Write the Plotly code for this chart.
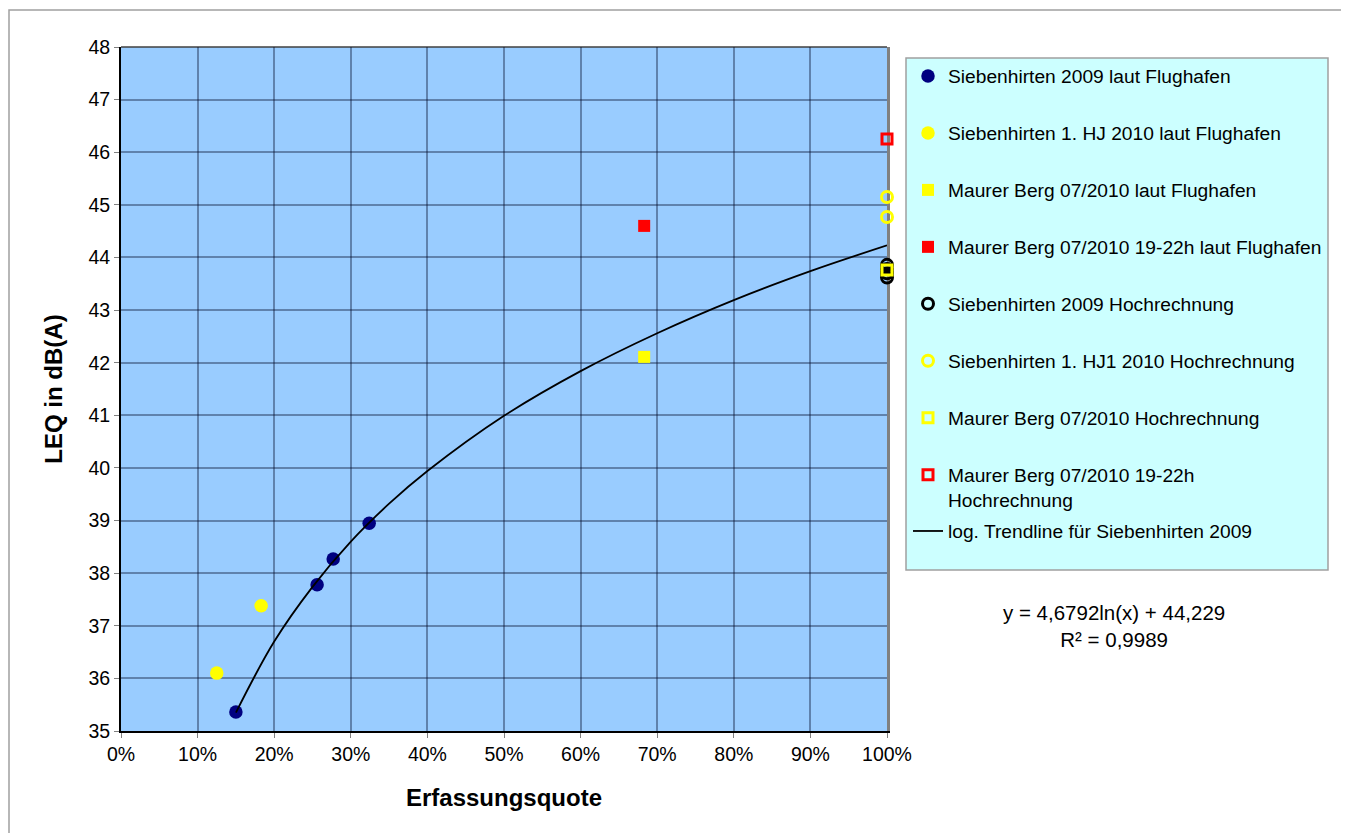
import plotly.graph_objects as go

# ---- data ----
sieb09_x = [0.150, 0.256, 0.277, 0.324]
sieb09_y = [35.36, 37.78, 38.27, 38.95]

sieb10_x = [0.125, 0.183]
sieb10_y = [36.10, 37.38]

maurer_x = [0.683]
maurer_y = [42.11]

maurer_eve_x = [0.683]
maurer_eve_y = [44.60]

sieb09_hr_x = [1.0, 1.0, 1.0, 1.0]
sieb09_hr_y = [43.62, 43.70, 43.78, 43.86]

sieb10_hr_x = [1.0, 1.0]
sieb10_hr_y = [44.77, 45.15]

maurer_hr_x = [1.0]
maurer_hr_y = [43.76]

maurer_eve_hr_x = [1.0]
maurer_eve_hr_y = [46.25]

trend_x = [0.15, 0.20, 0.25, 0.30, 0.35, 0.40, 0.50, 0.60, 0.70, 0.80, 0.90, 1.00]
trend_y = [35.35, 36.70, 37.74, 38.60, 39.32, 39.94, 40.99, 41.84, 42.56, 43.19, 43.74, 44.23]

names = [
    "Siebenhirten 2009 laut Flughafen",
    "Siebenhirten 1. HJ 2010 laut Flughafen",
    "Maurer Berg 07/2010 laut Flughafen",
    "Maurer Berg 07/2010 19-22h laut Flughafen",
    "Siebenhirten 2009 Hochrechnung",
    "Siebenhirten 1. HJ1 2010 Hochrechnung",
    "Maurer Berg 07/2010 Hochrechnung",
    "Maurer Berg 07/2010 19-22h<br>Hochrechnung",
    "log. Trendline für Siebenhirten 2009",
]
equation = "y = 4,6792ln(x) + 44,229<br>R² = 0,9989"

FONT = "Liberation Sans, Arial, sans-serif"

fig = go.Figure()

def add(x, y, name, symbol, color, size, lw=0, lc=None, i=0):
    fig.add_trace(go.Scatter(
        x=x, y=y, mode="markers", name=name, legendgroup=f"g{i}", legendrank=i,
        cliponaxis=False,
        marker=dict(symbol=symbol, color=color, size=size,
                    line=dict(width=lw, color=lc if lc else color)),
    ))

add(sieb09_hr_x, sieb09_hr_y, names[4], "circle-open", "#000000", 11, 3, "#000000", 4)
add(sieb09_x, sieb09_y, names[0], "circle", "#000080", 13.5, 0, None, 0)
add(sieb10_x, sieb10_y, names[1], "circle", "#FFFF00", 13.5, 0, None, 1)
add(maurer_x, maurer_y, names[2], "square", "#FFFF00", 12, 0, None, 2)
add(maurer_eve_x, maurer_eve_y, names[3], "square", "#FF0000", 12, 0, None, 3)
add(sieb10_hr_x, sieb10_hr_y, names[5], "circle-open", "#FFFF00", 11, 3, "#FFFF00", 5)
add(maurer_hr_x, maurer_hr_y, names[6], "square-open", "#FFFF00", 10, 3, "#FFFF00", 6)
add(maurer_eve_hr_x, maurer_eve_hr_y, names[7], "square-open", "#FF0000", 10, 3, "#FF0000", 7)

fig.add_trace(go.Scatter(
    x=trend_x, y=trend_y, mode="lines", name=names[8],
    line=dict(color="#000000", width=1.8, shape="spline"),
    legend="legend2",
))

# page is rendered with an 8px body margin -> work in image pixels, shift by 8
OFF = 8
W, H = 1349 - OFF, 833 - OFF
PL, PR, PT, PB = 121, 887, 47, 731  # plot area in image pixels
L, R, T, B = PL - OFF, W - (PR - OFF), PT - OFF, H - (PB - OFF)
PW, PH = PR - PL, PB - PT

def px(xi):
    return (xi - PL) / PW

def py(yi):
    return (PB - yi) / PH

shapes = [
    # outer frame
    dict(type="rect", xref="paper", yref="paper", x0=px(9), x1=px(1344), y0=py(900), y1=py(10),
         line=dict(color="#A0A0A0", width=1.5), fillcolor="rgba(0,0,0,0)", layer="below"),
    # legend box
    dict(type="rect", xref="paper", yref="paper", x0=px(906), x1=px(1328), y0=py(570), y1=py(58),
         line=dict(color="#A0A0A0", width=1.5), fillcolor="#CCFFFF", layer="below"),
    # top frame of plot area
    dict(type="line", xref="paper", yref="paper", x0=0, x1=1, y0=1, y1=1,
         line=dict(color="#404040", width=1.5), layer="below"),
]

GRID = "rgba(0,10,40,0.38)"

fig.update_layout(
    width=W, height=H,
    margin=dict(l=L, r=R, t=T, b=B),
    paper_bgcolor="#FFFFFF", plot_bgcolor="#99CCFF",
    font=dict(family=FONT, size=16, color="#000000"),
    showlegend=True,
    legend=dict(
        x=px(908), y=py(57), xanchor="left", yanchor="top",
        bgcolor="rgba(0,0,0,0)", borderwidth=0,
        font=dict(family=FONT, size=19.2, color="#000000"),
        tracegroupgap=29, valign="top", itemwidth=30,
        traceorder="grouped",
    ),
    legend2=dict(
        x=px(908), y=py(531), xanchor="left", yanchor="middle",
        bgcolor="rgba(0,0,0,0)", borderwidth=0,
        font=dict(family=FONT, size=19.2, color="#000000"),
    ),
    shapes=shapes,
    xaxis=dict(
        range=[0, 1], dtick=0.1, tick0=0, tickformat=".0%",
        showgrid=True, gridcolor=GRID, gridwidth=2,
        showline=True, linecolor="#000000", linewidth=2, mirror=False,
        ticks="outside", ticklen=5, tickcolor="#808080",
        tickfont=dict(family=FONT, size=19.5),
        title=dict(text="<b>Erfassungsquote</b>", font=dict(family=FONT, size=24), standoff=25),
        zeroline=False,
    ),
    yaxis=dict(
        range=[35, 48], dtick=1, tick0=35,
        showgrid=True, gridcolor=GRID, gridwidth=2,
        showline=True, linecolor="#000000", linewidth=2, mirror=False,
        ticks="outside", ticklen=5, tickcolor="#808080",
        tickfont=dict(family=FONT, size=19.5),
        title=dict(text="<b>LEQ in dB(A)</b>", font=dict(family=FONT, size=24), standoff=19),
        zeroline=False,
    ),
    yaxis2=dict(
        overlaying="y", side="right", range=[35, 48], showgrid=False, showticklabels=False,
        ticks="", showline=True, linecolor="#808080", linewidth=3, layer="below traces",
        zeroline=False,
    ),
    annotations=[
        dict(xref="paper", yref="paper", x=px(1114), y=py(626), text=equation, showarrow=False,
             font=dict(family=FONT, size=20.5), align="center", xanchor="center", yanchor="middle"),
    ],
)

# invisible helper trace so the right-hand frame axis is drawn
fig.add_trace(go.Scatter(x=[None], y=[None], yaxis="y2", showlegend=False, hoverinfo="skip"))

fig.write_html("out.html")
